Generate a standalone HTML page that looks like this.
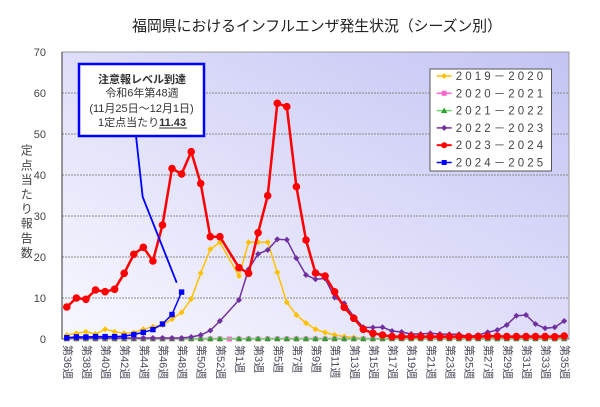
<!DOCTYPE html>
<html><head><meta charset="utf-8">
<style>
html,body{margin:0;padding:0;background:#fff;}
svg{display:block;}
text{font-family:"Liberation Sans","Noto Sans CJK JP",sans-serif;}
</style></head>
<body>
<svg width="600" height="407" viewBox="0 0 600 407" xmlns="http://www.w3.org/2000/svg">
<defs>
<linearGradient id="bg" x1="0" y1="1" x2="1" y2="0">
<stop offset="0" stop-color="#f8f8ff"/>
<stop offset="1" stop-color="#c4c4f4"/>
</linearGradient>
<marker id="mY" markerUnits="userSpaceOnUse" markerWidth="8" markerHeight="8" refX="0" refY="0" overflow="visible"><path d="M0,-3 L3,0 L0,3 L-3,0Z" fill="#ffc000"/></marker>
<marker id="mP" markerUnits="userSpaceOnUse" markerWidth="8" markerHeight="8" refX="0" refY="0" overflow="visible"><rect x="-2.5" y="-2.5" width="5" height="5" fill="#ff66cc"/></marker>
<marker id="mG" markerUnits="userSpaceOnUse" markerWidth="8" markerHeight="8" refX="0" refY="0" overflow="visible"><path d="M0,-3 L3.2,2.5 L-3.2,2.5Z" fill="#2fa02f"/></marker>
<marker id="mV" markerUnits="userSpaceOnUse" markerWidth="8" markerHeight="8" refX="0" refY="0" overflow="visible"><path d="M0,-3 L3,0 L0,3 L-3,0Z" fill="#7030a0"/></marker>
<marker id="mR" markerUnits="userSpaceOnUse" markerWidth="10" markerHeight="10" refX="0" refY="0" overflow="visible"><circle cx="0" cy="0" r="3.8" fill="#ff0000"/></marker>
<marker id="mB" markerUnits="userSpaceOnUse" markerWidth="8" markerHeight="8" refX="0" refY="0" overflow="visible"><rect x="-2.7" y="-2.7" width="5.4" height="5.4" fill="#0000ff"/></marker>
</defs>

<!-- title -->
<text x="317" y="31" font-size="15" fill="#222" text-anchor="middle" textLength="370" lengthAdjust="spacing">福岡県におけるインフルエンザ発生状況（シーズン別）</text>

<!-- plot area -->
<rect x="62" y="52" width="507" height="287" fill="url(#bg)" stroke="#999" stroke-width="1"/>
<g stroke="#8a8a8a" stroke-width="1" stroke-dasharray="2,1">
<line x1="62" y1="93" x2="569" y2="93"/>
<line x1="62" y1="134" x2="569" y2="134"/>
<line x1="62" y1="175" x2="569" y2="175"/>
<line x1="62" y1="216" x2="569" y2="216"/>
<line x1="62" y1="257" x2="569" y2="257"/>
<line x1="62" y1="298" x2="569" y2="298"/>
</g>
<line x1="62" y1="52" x2="62" y2="339" stroke="#555" stroke-width="1.2"/>
<line x1="62" y1="339" x2="569" y2="339" stroke="#555" stroke-width="1"/>

<!-- y tick labels -->
<g font-size="11" fill="#444" text-anchor="end">
<text x="46" y="56">70</text>
<text x="46" y="97">60</text>
<text x="46" y="138">50</text>
<text x="46" y="179">40</text>
<text x="46" y="220">30</text>
<text x="46" y="261">20</text>
<text x="46" y="302">10</text>
<text x="46" y="343">0</text>
</g>

<!-- y axis title -->
<g font-size="12" fill="#444" text-anchor="middle" dominant-baseline="central">
<text x="26.7" y="150.7">定</text>
<text x="26.7" y="165.3">点</text>
<text x="26.7" y="179.9">当</text>
<text x="26.7" y="194.5">た</text>
<text x="26.7" y="209.1">り</text>
<text x="26.7" y="223.7">報</text>
<text x="26.7" y="238.3">告</text>
<text x="26.7" y="252.9">数</text>
</g>

<!-- x labels -->
<g font-size="11" fill="#4a4a5a" dominant-baseline="central">
<text transform="translate(66.8,345) rotate(90)">第36週</text>
<text transform="translate(85.9,345) rotate(90)">第38週</text>
<text transform="translate(105.1,345) rotate(90)">第40週</text>
<text transform="translate(124.2,345) rotate(90)">第42週</text>
<text transform="translate(143.3,345) rotate(90)">第44週</text>
<text transform="translate(162.5,345) rotate(90)">第46週</text>
<text transform="translate(181.6,345) rotate(90)">第48週</text>
<text transform="translate(200.7,345) rotate(90)">第50週</text>
<text transform="translate(219.9,345) rotate(90)">第52週</text>
<text transform="translate(239.0,345) rotate(90)">第1週</text>
<text transform="translate(258.1,345) rotate(90)">第3週</text>
<text transform="translate(277.3,345) rotate(90)">第5週</text>
<text transform="translate(296.4,345) rotate(90)">第7週</text>
<text transform="translate(315.5,345) rotate(90)">第9週</text>
<text transform="translate(334.6,345) rotate(90)">第11週</text>
<text transform="translate(353.8,345) rotate(90)">第13週</text>
<text transform="translate(372.9,345) rotate(90)">第15週</text>
<text transform="translate(392.0,345) rotate(90)">第17週</text>
<text transform="translate(411.2,345) rotate(90)">第19週</text>
<text transform="translate(430.3,345) rotate(90)">第21週</text>
<text transform="translate(449.4,345) rotate(90)">第23週</text>
<text transform="translate(468.6,345) rotate(90)">第25週</text>
<text transform="translate(487.7,345) rotate(90)">第27週</text>
<text transform="translate(506.8,345) rotate(90)">第29週</text>
<text transform="translate(526.0,345) rotate(90)">第31週</text>
<text transform="translate(545.1,345) rotate(90)">第33週</text>
<text transform="translate(564.2,345) rotate(90)">第35週</text>
</g>

<!-- 2019-2020 yellow -->
<polyline fill="none" stroke="#ffc000" stroke-width="1.5" marker-start="url(#mY)" marker-mid="url(#mY)" marker-end="url(#mY)"
points="66.8,335 76.4,333.3 85.9,331.7 95.5,334 105.1,329.3 114.6,331.7 124.2,333.3 133.8,332.8 143.3,329.3 152.9,326.7 162.5,325 172,319 181.6,312.5 191.2,299 200.7,273.3 210.3,249.3 219.9,242.3 239,276 248.6,242.3 258.1,242.3 267.7,242.3 277.3,272.3 286.8,302.3 296.4,315 306,323 315.5,329.2 325.1,332.5 334.6,335 344.2,336.5 353.8,337.5 363.3,338.5"/>

<!-- 2020-2021 pink -->
<polyline fill="none" stroke="#ff66cc" stroke-width="1.5" marker-start="url(#mP)" marker-mid="url(#mP)" marker-end="url(#mP)"
points="66.8,339 76.4,339 85.9,339 95.5,339 105.1,339 114.6,339 124.2,339 133.8,339 143.3,339 152.9,339 162.5,339 172,339 181.6,339 191.2,339 200.7,339 210.3,339 219.9,339 229.4,339 239,339 248.6,339 258.1,339 267.7,339 277.3,339 286.8,339 296.4,339 306,339 315.5,339 325.1,339 334.6,339 344.2,339 353.8,339 363.3,339 372.9,339 382.5,339 392,339 401.6,339 411.2,339 420.7,339 430.3,339 439.9,339 449.4,339 459,339 468.6,339 478.1,339 487.7,339 497.3,339 506.8,339 516.4,339 526,339 535.5,339 545.1,339 554.7,339 564.2,339"/>

<!-- 2021-2022 green -->
<polyline fill="none" stroke="#66dd66" stroke-width="1.5" marker-start="url(#mG)" marker-mid="url(#mG)" marker-end="url(#mG)"
points="66.8,338.5 76.4,338.5 85.9,338.5 95.5,338.5 105.1,338.5 114.6,338.5 124.2,338.5 133.8,338.5 143.3,338.5 152.9,338.5 162.5,338.5 172,338.5 181.6,338.5 191.2,338.5 200.7,338.5 210.3,338.5 219.9,338.5 239,338.5 248.6,338.5 258.1,338.5 267.7,338.5 277.3,338.5 286.8,338.5 296.4,338.5 306,338.5 315.5,338.5 325.1,338.5 334.6,338.5 344.2,338.5 353.8,338.5 363.3,338.5 372.9,338.5 382.5,338.5 392,338.5 401.6,338.5 411.2,338.5 420.7,338.5 430.3,338.5 439.9,338.5 449.4,338.5 459,338.5 468.6,338.5 478.1,338.5 487.7,338.5 497.3,338.5 506.8,338.5 516.4,338.5 526,338.5 535.5,338.5 545.1,338.5 554.7,338.5 564.2,338.5"/>

<!-- 2022-2023 purple -->
<polyline fill="none" stroke="#7030a0" stroke-width="1.5" marker-start="url(#mV)" marker-mid="url(#mV)" marker-end="url(#mV)"
points="66.8,338 76.4,338 85.9,338 95.5,338 105.1,338 114.6,338 124.2,338 133.8,338 143.3,338 152.9,338 162.5,338 172,338 181.6,338 191.2,337 200.7,335 210.3,330.5 219.9,321 239,300 248.6,269.3 258.1,254 267.7,250 277.3,239.3 286.8,239.8 296.4,258.3 306,275 315.5,279.2 325.1,278.5 334.6,297.5 344.2,303.3 353.8,316.7 363.3,327.3 372.9,327.5 382.5,327.3 392,331 401.6,332 411.2,334 420.7,334 430.3,333.3 439.9,334 449.4,334.3 459,334.3 468.6,336.7 478.1,335 487.7,332.3 497.3,330 506.8,325 516.4,315.7 526,315 535.5,324 545.1,328.3 554.7,327.3 564.2,321"/>

<!-- 2023-2024 red -->
<polyline fill="none" stroke="#ff0000" stroke-width="2.5" stroke-linejoin="round" marker-start="url(#mR)" marker-mid="url(#mR)" marker-end="url(#mR)"
points="66.8,307 76.4,298 85.9,299.3 95.5,290 105.1,291.7 114.6,289.3 124.2,273.3 133.8,254.3 143.3,247.3 152.9,261 162.5,225 172,168.5 181.6,174 191.2,151.7 200.7,183.5 210.3,236.7 219.9,236.7 239,267.7 248.6,273.3 258.1,232.7 267.7,195.7 277.3,103.3 286.8,106.7 296.4,186.7 306,240 315.5,273 325.1,276 334.6,291.8 344.2,307.3 353.8,318.3 363.3,329.3 372.9,333.3 382.5,335 392,336.6 401.6,336.6 411.2,336.6 420.7,336.6 430.3,336.6 439.9,336.6 449.4,336.6 459,336.6 468.6,336.8 478.1,336.6 487.7,336.3 497.3,336.3 506.8,336.6 516.4,336.6 526,336.5 535.5,336.6 545.1,336.6 554.7,336.8 564.2,336"/>

<!-- 2024-2025 blue -->
<polyline fill="none" stroke="#0000ff" stroke-width="1.5" marker-start="url(#mB)" marker-mid="url(#mB)" marker-end="url(#mB)"
points="66.8,337.7 76.4,336.9 85.9,337 95.5,336.6 105.1,336.6 114.6,336.6 124.2,336.3 133.8,334.5 143.3,332.4 152.9,329.6 162.5,324 172,314.5 181.6,292.1"/>

<!-- callout -->
<polyline fill="none" stroke="#0000ff" stroke-width="1.8" points="136,136 142.7,197 176.7,282.7"/>
<rect x="79" y="64" width="125" height="72" fill="#fff" stroke="#0000ff" stroke-width="2.5"/>
<g font-size="11" fill="#333" text-anchor="middle">
<text x="142" y="83.2" font-weight="bold">注意報レベル到達</text>
<text x="142" y="96.5">令和6年第48週</text>
<text x="141.5" y="111.9">(11月25日～12月1日)</text>
<text x="142" y="126">1定点当たり<tspan font-weight="bold">11.43</tspan></text>
</g>
<line x1="159" y1="128" x2="187" y2="128" stroke="#333" stroke-width="1"/>

<!-- legend -->
<rect x="430" y="69" width="121.5" height="102" fill="#fff" stroke="#555" stroke-width="1"/>
<g font-size="11.5" fill="#444">
<line x1="436.7" y1="76" x2="451.7" y2="76" stroke="#ffc000" stroke-width="1.5"/>
<path d="M444.2,73 L447.2,76 L444.2,79 L441.2,76Z" fill="#ffc000"/>
<text x="455.7" y="80" textLength="87.5" lengthAdjust="spacing">2019－2020</text>

<line x1="436.7" y1="93.3" x2="451.7" y2="93.3" stroke="#ff66cc" stroke-width="1.5"/>
<rect x="441.7" y="90.8" width="5" height="5" fill="#ff66cc"/>
<text x="455.7" y="97.3" textLength="87.5" lengthAdjust="spacing">2020－2021</text>

<line x1="436.7" y1="110.6" x2="451.7" y2="110.6" stroke="#66dd66" stroke-width="1.5"/>
<path d="M444.2,107.6 L447.4,113.1 L441,113.1Z" fill="#2fa02f"/>
<text x="455.7" y="114.6" textLength="87.5" lengthAdjust="spacing">2021－2022</text>

<line x1="436.7" y1="127.9" x2="451.7" y2="127.9" stroke="#7030a0" stroke-width="1.5"/>
<path d="M444.2,124.9 L447.2,127.9 L444.2,130.9 L441.2,127.9Z" fill="#7030a0"/>
<text x="455.7" y="131.9" textLength="87.5" lengthAdjust="spacing">2022－2023</text>

<line x1="436.7" y1="145.2" x2="451.7" y2="145.2" stroke="#ff0000" stroke-width="2"/>
<circle cx="444.2" cy="145.2" r="3" fill="#ff0000"/>
<text x="455.7" y="149.2" textLength="87.5" lengthAdjust="spacing">2023－2024</text>

<line x1="436.7" y1="162.5" x2="451.7" y2="162.5" stroke="#0000ff" stroke-width="1.5"/>
<rect x="441.7" y="160" width="5" height="5" fill="#0000ff"/>
<text x="455.7" y="166.5" textLength="87.5" lengthAdjust="spacing">2024－2025</text>
</g>
</svg>
</body></html>
